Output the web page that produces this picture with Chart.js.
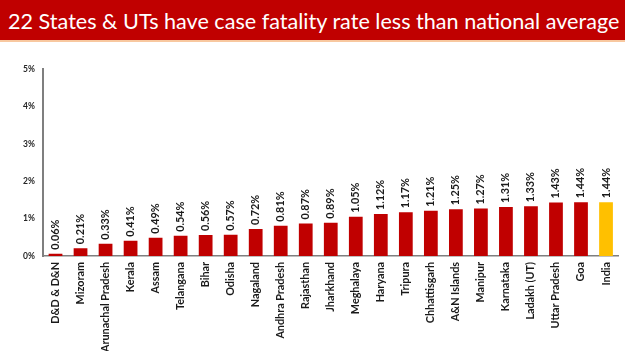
<!DOCTYPE html>
<html><head><meta charset="utf-8">
<script src="https://cdn.jsdelivr.net/npm/chart.js@4/dist/chart.umd.min.js"></script>
<style>
html,body{margin:0;padding:0;background:#fff;}
#wrap{position:relative;width:625px;height:351px;overflow:hidden;}
#title{position:absolute;left:0;top:0;width:625px;height:42px;background:#C00000;border-bottom:2px solid #F8C8A0;color:#fff;font-family:Lato,sans-serif;font-size:21.6px;line-height:42px;white-space:nowrap;box-sizing:border-box;padding-left:8px;}
#c{position:absolute;left:0;top:0;}
</style></head>
<body><div id="wrap">
<canvas id="c" width="625" height="351"></canvas>
<div id="title">22 States &amp; UTs have case fatality rate less than national average</div>
</div>
<script>
const categories = ["D&D & D&N","Mizoram","Arunachal Pradesh","Kerala","Assam","Telangana","Bihar","Odisha","Nagaland","Andhra Pradesh","Rajasthan","Jharkhand","Meghalaya","Haryana","Tripura","Chhattisgarh","A&N Islands","Manipur","Karnataka","Ladakh (UT)","Uttar Pradesh","Goa","India"];
const cfrValues = [0.06,0.21,0.33,0.41,0.49,0.54,0.56,0.57,0.72,0.81,0.87,0.89,1.05,1.12,1.17,1.21,1.25,1.27,1.31,1.33,1.43,1.44,1.44];
const yTicks = [0,1,2,3,4,5];
const highlight = "India";

const labelPlugin = {
  id:'vlabels',
  afterDatasetsDraw(chart){
    const ctx = chart.ctx;
    const meta = chart.getDatasetMeta(0);
    ctx.save();
    ctx.font = 'bold 10.8px Lato, sans-serif';
    ctx.fillStyle = '#1a1a1a';
    ctx.textAlign = 'left';
    ctx.textBaseline = 'middle';
    meta.data.forEach((bar,i)=>{
      ctx.save();
      ctx.translate(bar.x, bar.y - 4);
      ctx.rotate(-Math.PI/2);
      ctx.fillText(cfrValues[i].toFixed(2)+'%', 0, 0);
      ctx.restore();
    });
    ctx.restore();
  }
};

new Chart(document.getElementById('c'), {
  type:'bar',
  data:{labels:categories, datasets:[{data:cfrValues,
    backgroundColor:categories.map(c=>c===highlight?'#FFC000':'#C00000'),
    barPercentage:0.55, categoryPercentage:1.0}]},
  options:{
    responsive:false, animation:false,
    layout:{padding:{top:69,right:1,left:0,bottom:0}},
    plugins:{legend:{display:false},tooltip:{enabled:false}},
    scales:{
      x:{
        grid:{display:false, drawTicks:false},
        border:{color:'#7f7f7f', width:1.5},
        ticks:{maxRotation:90,minRotation:90,autoSkip:false,padding:6,color:'#1a1a1a',font:{family:'Lato',weight:'bold',size:10.8}},
        afterFit(s){s.height=95;}
      },
      y:{
        min:0,max:5,
        afterBuildTicks(s){s.ticks = yTicks.map(v=>({value:v}));},
        grid:{display:false, drawTicks:false},
        border:{color:'#7f7f7f', width:2},
        ticks:{padding:8,color:'#262626',font:{family:'Lato',weight:'bold',size:8.5},callback:v=>v+'%'},
        afterFit(s){s.width=43;}
      }
    }
  },
  plugins:[labelPlugin]
});
</script>
</body></html>
